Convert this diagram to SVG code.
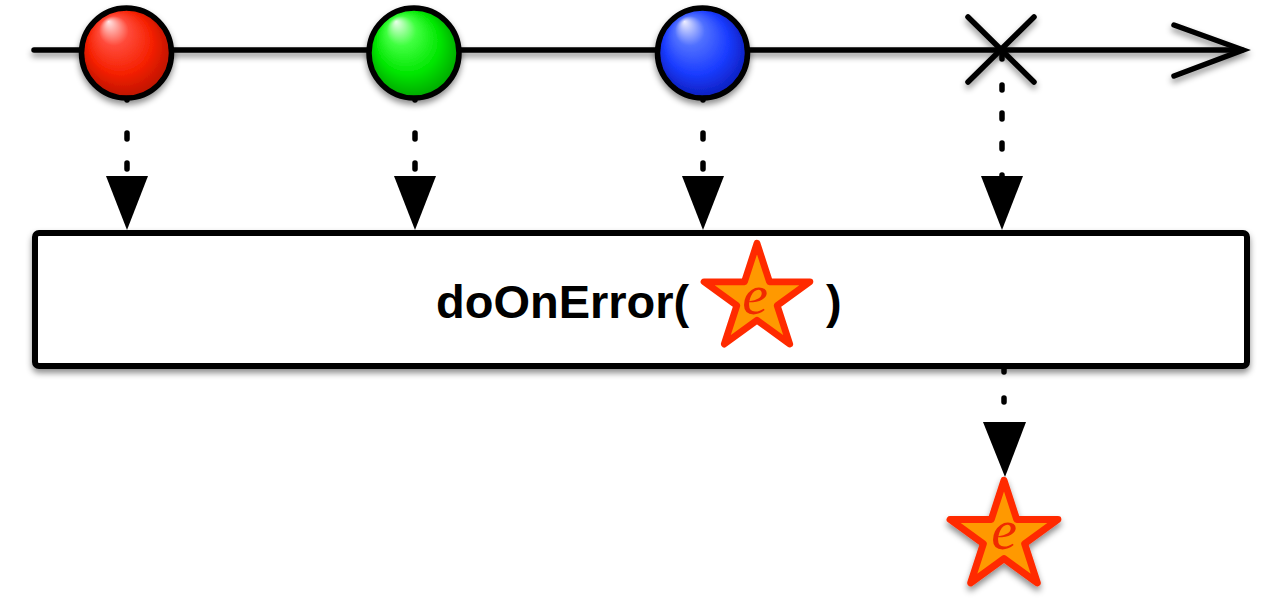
<svg xmlns="http://www.w3.org/2000/svg" width="1280" height="610" viewBox="0 0 1280 610">
  <defs>
    <filter id="shadow" x="-20%" y="-20%" width="140%" height="160%">
      <feDropShadow dx="0" dy="4" stdDeviation="3" flood-color="#000" flood-opacity="0.45"/>
    </filter>
    <radialGradient id="gRed" cx="0.5" cy="0.5" r="0.55" fx="0.3" fy="0.15">
      <stop offset="0" stop-color="#ffe6e6"/>
      <stop offset="0.3" stop-color="#ff4a3a"/>
      <stop offset="0.65" stop-color="#f52000"/>
      <stop offset="1" stop-color="#b01000"/>
    </radialGradient>
    <radialGradient id="gGreen" cx="0.5" cy="0.5" r="0.55" fx="0.3" fy="0.15">
      <stop offset="0" stop-color="#eaffea"/>
      <stop offset="0.3" stop-color="#40ff40"/>
      <stop offset="0.65" stop-color="#00e600"/>
      <stop offset="1" stop-color="#009a00"/>
    </radialGradient>
    <radialGradient id="gBlue" cx="0.5" cy="0.5" r="0.55" fx="0.3" fy="0.15">
      <stop offset="0" stop-color="#eeeeff"/>
      <stop offset="0.3" stop-color="#5070ff"/>
      <stop offset="0.65" stop-color="#1a3cff"/>
      <stop offset="1" stop-color="#0a18b0"/>
    </radialGradient>
    <path id="star" d="M0,-53 L11.90,-16.38 L50.41,-16.38 L19.26,6.26 L31.15,42.88 L0,20.25 L-31.15,42.88 L-19.26,6.26 L-50.41,-16.38 L-11.90,-16.38 Z"/>
  </defs>
  <style>
    .line { fill: none; stroke: #000; stroke-width: 5.5; stroke-linecap: round; }
    .dash { fill: none; stroke: #000; stroke-width: 5.5; stroke-linecap: round; }
    .head { fill: #000; stroke: none; }
    .ball { stroke: #000; stroke-width: 5.5; filter: url(#shadow); }
    .starshape { fill: #ff9900; stroke: #ff2a00; stroke-width: 6.5; stroke-linejoin: round; }
    .e { font-family: "Liberation Serif", "Times New Roman", serif; font-style: italic; font-size: 58px; fill: #f02a00; text-anchor: middle; }
    .label { font-family: "Liberation Sans", Arial, Helvetica, sans-serif; font-weight: bold; font-size: 47px; fill: #000; }
  </style>
  <rect width="1280" height="610" fill="#fff"/>

  <g id="timeline" filter="url(#shadow)">
    <line class="line" x1="34" y1="50" x2="1242" y2="50"/>
    <polyline class="line" points="1174,25 1243,50 1174,76" stroke-linejoin="miter"/>
  </g>

  <g id="connectors">
    <path class="dash" d="M127,90 V176" stroke-dasharray="10 33 6 24 6 40"/>
    <polygon class="head" points="106,176 148,176 127,230"/>
    <path class="dash" d="M415,90 V176" stroke-dasharray="10 33 6 24 6 40"/>
    <polygon class="head" points="394,176 436,176 415,230"/>
    <path class="dash" d="M703,90 V176" stroke-dasharray="10 33 6 24 6 40"/>
    <polygon class="head" points="682,176 724,176 703,230"/>
    <path class="dash" d="M1002,55 V176" stroke-dasharray="4 26 5 23 6 24 6 26 2 10"/>
    <polygon class="head" points="981,176 1023,176 1002,230"/>
    <path class="dash" d="M1004,366 V422" stroke-dasharray="6 26 4 30"/>
    <polygon class="head" points="983,422 1026,422 1005,477"/>
  </g>

  <g id="red-marble">
    <circle class="ball" cx="126.5" cy="53" r="45" fill="url(#gRed)"/>
  </g>
  <g id="green-marble">
    <circle class="ball" cx="414" cy="53" r="45" fill="url(#gGreen)"/>
  </g>
  <g id="blue-marble">
    <circle class="ball" cx="702.5" cy="53" r="45" fill="url(#gBlue)"/>
  </g>
  <g id="error-x" filter="url(#shadow)">
    <line class="line" x1="968" y1="17" x2="1034" y2="82"/>
    <line class="line" x1="968" y1="82" x2="1034" y2="17"/>
  </g>

  <g id="operator-box">
    <rect x="35" y="233" width="1212" height="133" rx="4" fill="#fff" stroke="#000" stroke-width="6" filter="url(#shadow)"/>
    <text class="label" x="436" y="318">doOnError(</text>
    <g transform="translate(757,299) scale(1.05)">
      <use href="#star" class="starshape"/>
    </g>
    <text class="e" x="755" y="314">e</text>
    <text class="label" x="826" y="318">)</text>
  </g>

  <g id="error-output">
    <g transform="translate(1004,537) scale(1.07)" filter="url(#shadow)">
      <use href="#star" class="starshape"/>
    </g>
    <text class="e" x="1004" y="549">e</text>
  </g>
</svg>
